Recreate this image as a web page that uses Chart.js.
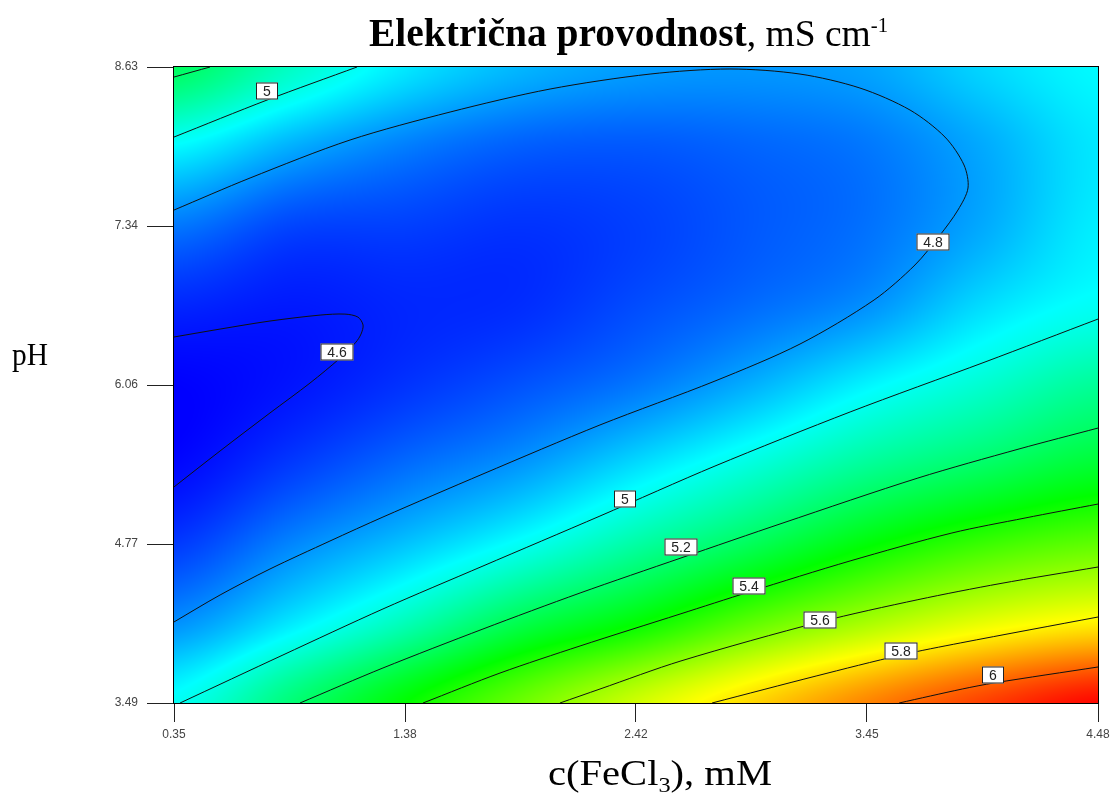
<!DOCTYPE html>
<html>
<head>
<meta charset="utf-8">
<script src="https://cdn.jsdelivr.net/npm/chart.js@4/dist/chart.umd.min.js"></script>
<style>
html, body { margin: 0; padding: 0; background: #fff; }
#wrap { width: 1111px; height: 796px; }
</style>
</head>
<body>
<div id="wrap"><canvas id="chart" width="1111" height="796"></canvas></div>
<script>
// axis ticks
const xTicks = [0.35, 1.3825, 2.415, 3.4475, 4.48];
const xTickLabels = ['0.35', '1.38', '2.42', '3.45', '4.48'];
const yTicks = [3.49, 4.775, 6.06, 7.345, 8.63];
const yTickLabels = ['3.49', '4.77', '6.06', '7.34', '8.63'];

// response surface: columns = c(FeCl3), rows = pH (bottom to top)
const gridX = [0.35, 0.866, 1.383, 1.899, 2.415, 2.931, 3.448, 3.964, 4.48];
const gridY = [3.49, 4.1325, 4.775, 5.4175, 6.06, 6.7025, 7.345, 7.9875, 8.63];
const conductivity = [
  [4.99, 5.19, 5.38, 5.55, 5.71, 5.85, 5.98, 6.09, 6.18],
  [4.80, 4.94, 5.09, 5.26, 5.38, 5.53, 5.65, 5.75, 5.81],
  [4.66, 4.78, 4.88, 4.99, 5.12, 5.24, 5.37, 5.47, 5.53],
  [4.58, 4.66, 4.74, 4.81, 4.92, 5.03, 5.14, 5.22, 5.30],
  [4.57, 4.60, 4.65, 4.70, 4.76, 4.85, 4.96, 5.05, 5.14],
  [4.63, 4.61, 4.63, 4.64, 4.69, 4.74, 4.80, 4.92, 4.99],
  [4.76, 4.68, 4.67, 4.65, 4.67, 4.71, 4.75, 4.84, 4.95],
  [4.97, 4.85, 4.77, 4.72, 4.71, 4.73, 4.76, 4.84, 4.94],
  [5.23, 5.07, 4.94, 4.86, 4.82, 4.81, 4.83, 4.91, 4.97]
];

// contour lines
const contour46 = [
  {x: 0.350, y: 6.448}, {x: 0.556, y: 6.512}, {x: 0.779, y: 6.577}, {x: 1.003, y: 6.625},
  {x: 1.114, y: 6.633}, {x: 1.172, y: 6.609}, {x: 1.195, y: 6.545}, {x: 1.186, y: 6.472},
  {x: 1.163, y: 6.406}, {x: 1.092, y: 6.277}, {x: 0.958, y: 6.076}, {x: 0.779, y: 5.834},
  {x: 0.556, y: 5.527}, {x: 0.350, y: 5.236}
];
const contour48 = [
  {x: 0.350, y: 4.145}, {x: 0.556, y: 4.363}, {x: 0.779, y: 4.573}, {x: 1.047, y: 4.799},
  {x: 1.284, y: 4.993}, {x: 1.731, y: 5.341}, {x: 2.254, y: 5.737}, {x: 2.768, y: 6.092},
  {x: 3.148, y: 6.391}, {x: 3.479, y: 6.747}, {x: 3.662, y: 7.030}, {x: 3.774, y: 7.272},
  {x: 3.854, y: 7.474}, {x: 3.899, y: 7.652}, {x: 3.881, y: 7.838}, {x: 3.796, y: 8.064},
  {x: 3.640, y: 8.282}, {x: 3.416, y: 8.460}, {x: 3.148, y: 8.573}, {x: 2.835, y: 8.614},
  {x: 2.478, y: 8.573}, {x: 2.031, y: 8.452}, {x: 1.584, y: 8.266}, {x: 1.137, y: 8.040},
  {x: 0.690, y: 7.733}, {x: 0.350, y: 7.474}
];
const contour50top = [{x: 0.350, y: 8.064}, {x: 0.766, y: 8.363}, {x: 1.168, y: 8.630}];
const contour52top = [{x: 0.350, y: 8.549}, {x: 0.511, y: 8.630}];
const contour50 = [
  {x: 0.377, y: 3.490}, {x: 0.837, y: 3.878}, {x: 1.284, y: 4.250}, {x: 1.731, y: 4.597},
  {x: 2.254, y: 5.001}, {x: 2.768, y: 5.405}, {x: 3.372, y: 5.842}, {x: 3.975, y: 6.246},
  {x: 4.480, y: 6.593}
];
const contour52 = [
  {x: 0.913, y: 3.490}, {x: 1.284, y: 3.773}, {x: 1.731, y: 4.088}, {x: 2.165, y: 4.379},
  {x: 2.616, y: 4.662}, {x: 3.072, y: 4.945}, {x: 3.675, y: 5.308}, {x: 4.127, y: 5.543},
  {x: 4.480, y: 5.712}
];
const contour54 = [
  {x: 1.463, y: 3.490}, {x: 1.807, y: 3.732}, {x: 2.165, y: 3.951}, {x: 2.612, y: 4.209},
  {x: 2.920, y: 4.387}, {x: 3.372, y: 4.638}, {x: 3.827, y: 4.864}, {x: 4.154, y: 4.985},
  {x: 4.480, y: 5.098}
];
const contour56 = [
  {x: 2.075, y: 3.490}, {x: 2.254, y: 3.603}, {x: 2.616, y: 3.830}, {x: 3.237, y: 4.145},
  {x: 3.675, y: 4.325}, {x: 4.042, y: 4.455}, {x: 4.480, y: 4.589}
];
const contour58 = [
  {x: 2.755, y: 3.490}, {x: 3.220, y: 3.708}, {x: 3.600, y: 3.878}, {x: 3.864, y: 3.975},
  {x: 4.480, y: 4.185}
];
const contour60 = [{x: 3.591, y: 3.490}, {x: 3.873, y: 3.603}, {x: 4.015, y: 3.652}, {x: 4.480, y: 3.781}];

// contour labels
const labelText = ['5', '4.6', '4.8', '5', '5.2', '5.4', '5.6', '5.8', '6'];
const labelX = [0.766, 1.079, 3.742, 2.364, 2.616, 2.922, 3.237, 3.600, 4.011];
const labelY = [8.436, 6.327, 7.216, 5.142, 4.747, 4.436, 4.161, 3.910, 3.716];

// colour scale: blue - cyan - green - yellow - red
const colorStops = [4.57, 4.975, 5.38, 5.785, 6.19];
const stopColors = [[0, 0, 255], [0, 255, 255], [0, 255, 0], [255, 255, 0], [255, 0, 0]];

const colorFor = (v) => {
  if (v <= colorStops[0]) return stopColors[0];
  for (let i = 1; i < colorStops.length; i++) {
    if (v <= colorStops[i]) {
      const t = (v - colorStops[i - 1]) / (colorStops[i] - colorStops[i - 1]);
      const a = stopColors[i - 1], b = stopColors[i];
      return [a[0] + (b[0] - a[0]) * t, a[1] + (b[1] - a[1]) * t, a[2] + (b[2] - a[2]) * t];
    }
  }
  return stopColors[stopColors.length - 1];
};

const gridIndex = (arr, v) => {
  if (v <= arr[0]) return 0;
  for (let i = 1; i < arr.length; i++) {
    if (v <= arr[i]) return i - 1 + (v - arr[i - 1]) / (arr[i] - arr[i - 1]);
  }
  return arr.length - 1;
};

const catmull = (vals, f) => {
  const n = vals.length;
  const i = Math.min(Math.floor(f), n - 2), t = f - i;
  const p0 = vals[Math.max(i - 1, 0)], p1 = vals[i], p2 = vals[i + 1], p3 = vals[Math.min(i + 2, n - 1)];
  return p1 + 0.5 * t * (p2 - p0 + t * (2 * p0 - 5 * p1 + 4 * p2 - p3 + t * (3 * (p1 - p2) + p3 - p0)));
};

const heatmap = {
  id: 'heatmap',
  beforeDatasetsDraw(chart) {
    const {ctx, chartArea: a, scales: {x, y}} = chart;
    const left = Math.round(a.left), top = Math.round(a.top);
    const w = Math.round(a.right) - left, h = Math.round(a.bottom) - top;
    const img = ctx.createImageData(w, h);
    const cols = [];
    for (let i = 0; i < w; i++) cols.push(gridIndex(gridX, x.getValueForPixel(left + i + 0.5)));
    for (let j = 0; j < h; j++) {
      const fy = gridIndex(gridY, y.getValueForPixel(top + j + 0.5));
      const rowVals = gridX.map((_, c) => catmull(conductivity.map(r => r[c]), fy));
      for (let i = 0; i < w; i++) {
        const c = colorFor(catmull(rowVals, cols[i]));
        const k = (j * w + i) * 4;
        img.data[k] = c[0]; img.data[k + 1] = c[1]; img.data[k + 2] = c[2]; img.data[k + 3] = 255;
      }
    }
    ctx.putImageData(img, left, top);
  }
};

// draws a run of text pieces squeezed horizontally to a target width
const drawRuns = (ctx, runs, x0, base, width) => {
  let total = 0;
  runs.forEach(r => { ctx.font = r.font; r.w = ctx.measureText(r.text).width; total += r.w; });
  ctx.save();
  ctx.translate(x0, base);
  ctx.scale(width / total, 1);
  ctx.fillStyle = '#000';
  ctx.textBaseline = 'alphabetic';
  ctx.textAlign = 'left';
  let cx = 0;
  runs.forEach(r => { ctx.font = r.font; ctx.fillText(r.text, cx, r.dy || 0); cx += r.w; });
  ctx.restore();
};

const overlay = {
  id: 'overlay',
  afterDatasetsDraw(chart) {
    const {ctx, chartArea: a, scales: {x, y}} = chart;
    ctx.save();
    ctx.strokeStyle = '#000';
    ctx.lineWidth = 1;
    ctx.strokeRect(Math.round(a.left) - 0.5, Math.round(a.top) - 0.5, a.right - a.left + 1, a.bottom - a.top + 1);

    ctx.font = '14px "Liberation Sans", Arial, sans-serif';
    ctx.textAlign = 'center';
    ctx.textBaseline = 'middle';
    labelText.forEach((t, i) => {
      const px = Math.round(x.getPixelForValue(labelX[i]));
      const py = Math.round(y.getPixelForValue(labelY[i]));
      const bw = Math.round(ctx.measureText(t).width) + 14, bh = 17;
      ctx.fillStyle = '#fff';
      ctx.fillRect(px - bw / 2, py - bh / 2, bw, bh);
      ctx.strokeStyle = '#222';
      ctx.strokeRect(px - bw / 2 + 0.5, py - bh / 2 + 0.5, bw - 1, bh - 1);
      ctx.fillStyle = '#222';
      ctx.fillText(t, px, py + 1);
    });
    ctx.restore();
  },
  afterDraw(chart) {
    const ctx = chart.ctx;
    const serif = '"Liberation Serif", "Times New Roman", serif';
    drawRuns(ctx, [
      {text: 'Električna provodnost', font: 'bold 40px ' + serif},
      {text: ', mS cm', font: '38px ' + serif},
      {text: '-1', font: '21px ' + serif, dy: -14}
    ], 369, 46, 519);
    drawRuns(ctx, [{text: 'pH', font: '32px ' + serif}], 12, 365, 36);
    drawRuns(ctx, [
      {text: 'c(FeCl', font: '35px ' + serif},
      {text: '3', font: '21px ' + serif, dy: 7},
      {text: '), mM', font: '35px ' + serif}
    ], 548, 785, 224);
  }
};

const line = (data) => ({
  data: data,
  showLine: true,
  borderColor: '#111',
  borderWidth: 1,
  pointRadius: 0,
  tension: 0.3,
  fill: false
});

const tickFont = {family: '"Liberation Sans", Arial, sans-serif', size: 12};

new Chart(document.getElementById('chart').getContext('2d'), {
  type: 'scatter',
  data: {
    datasets: [contour46, contour48, contour50top, contour52top, contour50, contour52,
      contour54, contour56, contour58, contour60].map(line)
  },
  options: {
    responsive: false,
    animation: false,
    devicePixelRatio: 1,
    layout: {padding: {left: 0, right: 13, top: 67, bottom: 0}},
    plugins: {legend: {display: false}, tooltip: {enabled: false}, title: {display: false}},
    scales: {
      x: {
        type: 'linear', min: 0.35, max: 4.48,
        afterBuildTicks: (s) => { s.ticks = xTicks.map(v => ({value: v})); },
        afterFit: (s) => { s.height = 93; s.paddingLeft = 0; s.paddingRight = 0; },
        ticks: {callback: (v, i) => xTickLabels[i], font: tickFont, color: '#444', padding: 5, maxRotation: 0, autoSkip: false},
        grid: {drawOnChartArea: false, drawTicks: true, tickLength: 19, color: '#222'},
        border: {display: true, color: '#000'}
      },
      y: {
        type: 'linear', min: 3.49, max: 8.63,
        afterBuildTicks: (s) => { s.ticks = yTicks.map(v => ({value: v})); },
        afterFit: (s) => { s.width = 174; s.paddingTop = 0; s.paddingBottom = 0; },
        ticks: {callback: (v, i) => yTickLabels[i], font: tickFont, color: '#444', padding: 9, autoSkip: false},
        grid: {drawOnChartArea: false, drawTicks: true, tickLength: 27, color: '#222'},
        border: {display: true, color: '#000'}
      }
    }
  },
  plugins: [heatmap, overlay]
});
</script>
</body>
</html>
